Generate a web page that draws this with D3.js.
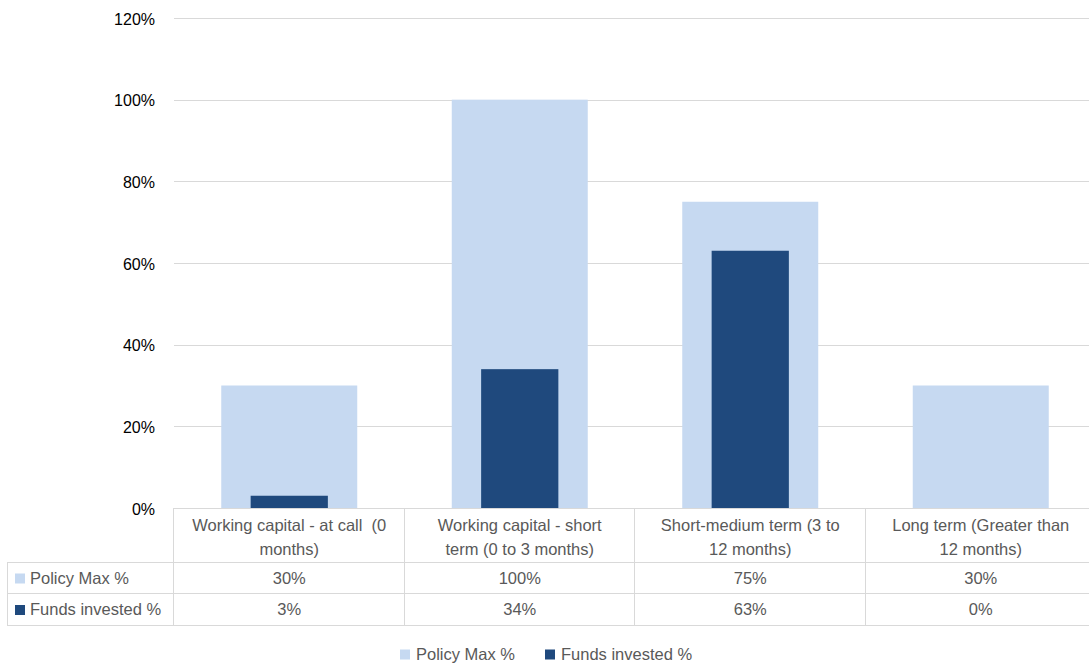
<!DOCTYPE html>
<html>
<head>
<meta charset="utf-8">
<script src="https://cdn.jsdelivr.net/npm/d3@7"></script>
<style>
  html, body { margin: 0; padding: 0; background: #fff; }
  svg { display: block; font-family: "Liberation Sans", Arial, sans-serif; }
  svg text { white-space: pre; }
</style>
</head>
<body>
<svg id="chart" width="1089" height="664"></svg>
<script>
// Investment horizon categories (each label split into two lines)
const categories = [
  "Working capital - at call  (0 months)",
  "Working capital - short term (0 to 3 months)",
  "Short-medium term (3 to 12 months)",
  "Long term (Greater than 12 months)"
];
const categoryLines = [
  ["Working capital - at call  (0", "months)"],
  ["Working capital - short", "term (0 to 3 months)"],
  ["Short-medium term (3 to", "12 months)"],
  ["Long term (Greater than", "12 months)"]
];
const seriesNames = ["Policy Max %", "Funds invested %"];
const policyMax = [30, 100, 75, 30];
const fundsInvested = [3, 34, 63, 0];
const yTicks = [0, 20, 40, 60, 80, 100, 120];

const colors = { policy: "#C6D9F1", funds: "#1F497D" };
const gridColor = "#D9D9D9";
const textColor = "#595959";
const fs = 16.5;

const svg = d3.select("#chart");
const W = 1089;

const plot = { left: 174, right: 1096, top: 18, bottom: 508 };

const x = d3.scaleBand().domain(categories).range([plot.left, plot.right]).padding(0);
const y = d3.scaleLinear().domain([0, 120]).range([plot.bottom, plot.top]);

// gridlines
svg.append("g").selectAll("line").data(yTicks).join("line")
  .attr("x1", plot.left).attr("x2", W)
  .attr("y1", d => Math.round(y(d)) + 0.5).attr("y2", d => Math.round(y(d)) + 0.5)
  .attr("stroke", gridColor).attr("stroke-width", 1);

// y tick labels
svg.append("g").selectAll("text").data(yTicks).join("text")
  .attr("x", 155).attr("y", d => y(d) + 1)
  .attr("dy", "0.36em")
  .attr("text-anchor", "end")
  .attr("font-size", 16)
  .attr("fill", "#000")
  .text(d => d + "%");

const bw = x.bandwidth();
const policyW = bw * 0.59;
const fundsW = bw * 0.335;

// Policy max bars (wide, light)
svg.append("g").selectAll("rect").data(policyMax).join("rect")
  .attr("x", (d, i) => x(categories[i]) + (bw - policyW) / 2)
  .attr("width", policyW)
  .attr("y", d => y(d))
  .attr("height", d => y(0) - y(d))
  .attr("fill", colors.policy);

// Funds invested bars (narrow, dark) drawn over the policy bars
svg.append("g").selectAll("rect").data(fundsInvested).join("rect")
  .attr("x", (d, i) => x(categories[i]) + (bw - fundsW) / 2)
  .attr("width", fundsW)
  .attr("y", d => y(d))
  .attr("height", d => y(0) - y(d))
  .attr("fill", colors.funds);

// Data table
const tbl = { left: 7, headerTop: plot.bottom, row1: 562, row2: 593, bottom: 625 };
const tg = svg.append("g").attr("stroke", gridColor).attr("stroke-width", 1).attr("fill", "none");
const hl = (x1, x2, yy) => tg.append("line").attr("x1", x1).attr("x2", x2)
  .attr("y1", yy + 0.5).attr("y2", yy + 0.5);
const vl = (xx, y1, y2) => tg.append("line").attr("x1", xx + 0.5).attr("x2", xx + 0.5)
  .attr("y1", y1).attr("y2", y2);

hl(tbl.left, W, tbl.row1);
hl(tbl.left, W, tbl.row2);
hl(tbl.left, W, tbl.bottom);
vl(tbl.left, tbl.row1, tbl.bottom + 1);
categories.forEach(c => vl(Math.round(x(c)) - 1, tbl.headerTop, tbl.bottom + 1));

// category header text
const hdr = svg.append("g").attr("font-size", fs).attr("fill", textColor).attr("text-anchor", "middle");
categories.forEach((c, i) => {
  categoryLines[i].forEach((line, j) => {
    hdr.append("text")
      .attr("x", x(c) + bw / 2)
      .attr("y", 525 + j * 24)
      .attr("dy", "0.36em")
      .text(line);
  });
});

// table rows: key + name + values
const rows = [
  { name: seriesNames[0], values: policyMax, color: colors.policy, yc: (tbl.row1 + tbl.row2) / 2 + 0.5 },
  { name: seriesNames[1], values: fundsInvested, color: colors.funds, yc: (tbl.row2 + tbl.bottom) / 2 + 0.5 }
];
rows.forEach(r => {
  svg.append("rect").attr("x", 15).attr("y", r.yc - 4.5).attr("width", 10).attr("height", 10).attr("fill", r.color);
  svg.append("text").attr("x", 30).attr("y", r.yc).attr("dy", "0.36em")
    .attr("font-size", fs).attr("fill", textColor).text(r.name);
  svg.append("g").selectAll("text").data(r.values).join("text")
    .attr("x", (d, i) => x(categories[i]) + bw / 2)
    .attr("y", r.yc).attr("dy", "0.36em")
    .attr("text-anchor", "middle").attr("font-size", fs).attr("fill", textColor)
    .text(d => d + "%");
});

// legend
const legend = [
  { name: seriesNames[0], color: colors.policy, x: 400 },
  { name: seriesNames[1], color: colors.funds, x: 545 }
];
legend.forEach(l => {
  svg.append("rect").attr("x", l.x).attr("y", 649.5).attr("width", 10).attr("height", 10).attr("fill", l.color);
  svg.append("text").attr("x", l.x + 16).attr("y", 654.5).attr("dy", "0.36em")
    .attr("font-size", fs).attr("fill", textColor).text(l.name);
});
</script>
</body>
</html>
